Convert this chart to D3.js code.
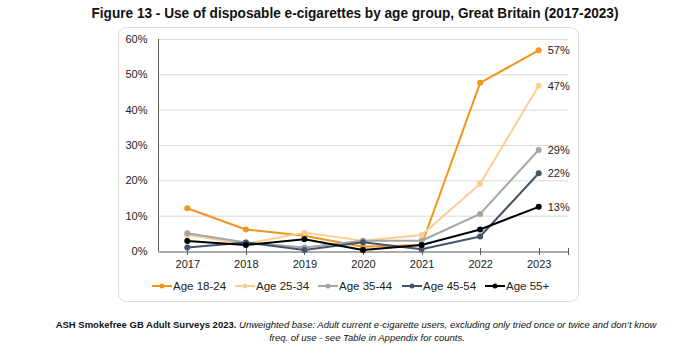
<!DOCTYPE html>
<html>
<head>
<meta charset="utf-8">
<script src="https://cdn.jsdelivr.net/npm/d3@7"></script>
<style>
  body { margin: 0; background: #fff; }
  text { font-family: "Liberation Sans", Arial, sans-serif; }
</style>
</head>
<body>
<div id="chart"></div>
<script>
// data
var years = ["2017", "2018", "2019", "2020", "2021", "2022", "2023"]
var groups = ["Age 18-24", "Age 25-34", "Age 35-44", "Age 45-54", "Age 55+"]
var age1824 = [12.1, 6.1, 4.3, 1.2, 1.7, 47.6, 56.8]
var age2534 = [4.5, 2.0, 5.2, 2.9, 4.5, 19.0, 46.8]
var age3544 = [5.0, 2.4, 1.0, 2.9, 2.9, 10.5, 28.6]
var age4554 = [1.0, 2.4, 0.3, 2.5, 0.5, 4.1, 22.0]
var age55 = [2.8, 1.7, 3.3, 0.3, 1.7, 6.1, 12.5]
var endLabels = ["57%", "47%", "29%", "22%", "13%"]
var yTicks = [0, 10, 20, 30, 40, 50, 60]

var seriesValues = [age1824, age2534, age3544, age4554, age55]
var colors = ["#f0961e", "#fbcf94", "#a5a5a5", "#44546a", "#000000"]

var width = 700,
    height = 354

var svg = d3.select("#chart")
            .append("svg")
            .attr("width", width)
            .attr("height", height)

// title (condensed to the width it has in the original)
svg.append("text")
   .attr("x", 355)
   .attr("y", 18)
   .attr("text-anchor", "middle")
   .attr("textLength", 527)
   .attr("lengthAdjust", "spacingAndGlyphs")
   .style("font-weight", "bold")
   .style("font-size", "14px")
   .attr("fill", "#111")
   .text("Figure 13 - Use of disposable e-cigarettes by age group, Great Britain (2017-2023)")

// frame
svg.append("rect")
   .attr("x", 118.5)
   .attr("y", 27.5)
   .attr("width", 460)
   .attr("height", 274)
   .attr("rx", 8)
   .attr("fill", "#fff")
   .attr("stroke", "#d9d9d9")

var x = d3.scalePoint()
          .domain(years)
          .range([158, 568])
          .padding(0.5)

var y = d3.scaleLinear()
          .domain([0, 60])
          .range([251, 39])

// gridlines
svg.append("g")
   .selectAll("line")
   .data(yTicks.slice(1))
   .enter()
   .append("line")
   .attr("x1", 158)
   .attr("x2", 568)
   .attr("y1", function(d) { return y(d) + 0.5 })
   .attr("y2", function(d) { return y(d) + 0.5 })
   .attr("stroke", "#d9d9d9")

// y axis
var yAxis = svg.append("g")
   .attr("transform", "translate(158.5,0)")
   .call(d3.axisLeft(y).tickValues(yTicks).tickSize(0).tickPadding(11)
           .tickFormat(function(d) { return d + "%" }))
yAxis.select(".domain").attr("stroke", "#595959").attr("d", "M0," + y(60) + "V" + (y(0) + 0.5))
yAxis.selectAll("text")
     .style("font-family", "'Liberation Sans', Arial, sans-serif")
     .style("font-size", "11px")
     .attr("fill", "#222")

// x axis
var xAxis = svg.append("g")
   .attr("transform", "translate(0,251.5)")
   .call(d3.axisBottom(x).tickSize(0).tickPadding(9))
xAxis.select(".domain").attr("stroke", "#595959")
xAxis.selectAll("text")
     .style("font-family", "'Liberation Sans', Arial, sans-serif")
     .style("font-size", "11px")
     .attr("fill", "#222")
svg.append("g")
   .selectAll("line")
   .data(years)
   .enter()
   .append("line")
   .attr("x1", function(d) { return Math.round(x(d)) + 0.5 })
   .attr("x2", function(d) { return Math.round(x(d)) + 0.5 })
   .attr("y1", 248)
   .attr("y2", 255)
   .attr("stroke", "#595959")
svg.append("line")
   .attr("x1", 568.5).attr("x2", 568.5)
   .attr("y1", 248).attr("y2", 255)
   .attr("stroke", "#595959")

// lines
var line = d3.line()
             .x(function(d, i) { return x(years[i]) })
             .y(function(d) { return y(d) })

var series = svg.selectAll("g.series")
                .data(seriesValues)
                .enter()
                .append("g")
                .attr("class", "series")

series.append("path")
      .attr("d", function(d) { return line(d) })
      .attr("fill", "none")
      .attr("stroke", function(d, i) { return colors[i] })
      .attr("stroke-width", 2)
      .attr("stroke-linejoin", "round")

series.selectAll("circle")
      .data(function(d, i) { return d.map(function(v) { return { v: v, c: colors[i] } }) })
      .enter()
      .append("circle")
      .attr("cx", function(d, i) { return x(years[i]) })
      .attr("cy", function(d) { return y(d.v) })
      .attr("r", 3)
      .attr("fill", function(d) { return d.c })

// end labels
series.append("text")
      .attr("x", x("2023") + 9)
      .attr("y", function(d) { return y(d[d.length - 1]) + 4 })
      .style("font-size", "11px")
      .attr("fill", "#222")
      .text(function(d, i) { return endLabels[i] })

// legend
var legendX = [152, 235, 318, 402, 485]
var legend = svg.selectAll("g.legend")
                .data(groups)
                .enter()
                .append("g")
                .attr("class", "legend")
                .attr("transform", function(d, i) { return "translate(" + legendX[i] + ",286)" })
legend.append("line")
      .attr("x1", 0).attr("x2", 20)
      .attr("stroke", function(d, i) { return colors[i] })
      .attr("stroke-width", 2)
legend.append("circle")
      .attr("cx", 10).attr("r", 2.5)
      .attr("fill", function(d, i) { return colors[i] })
legend.append("text")
      .attr("x", 21)
      .attr("y", 4)
      .style("font-size", "11.5px")
      .attr("fill", "#222")
      .text(function(d) { return d })

// footnote
var note = svg.append("text")
              .attr("x", 356)
              .attr("y", 328)
              .attr("text-anchor", "middle")
              .style("font-size", "9.5px")
              .attr("fill", "#111")
note.append("tspan").style("font-weight", "bold").text("ASH Smokefree GB Adult Surveys 2023. ")
note.append("tspan").style("font-style", "italic")
    .text("Unweighted base: Adult current e-cigarette users, excluding only tried once or twice and don\u2019t know")
svg.append("text")
   .attr("x", 367)
   .attr("y", 341)
   .attr("text-anchor", "middle")
   .style("font-size", "9.5px")
   .style("font-style", "italic")
   .attr("fill", "#111")
   .text("freq. of use - see Table in Appendix for counts.")
</script>
</body>
</html>
